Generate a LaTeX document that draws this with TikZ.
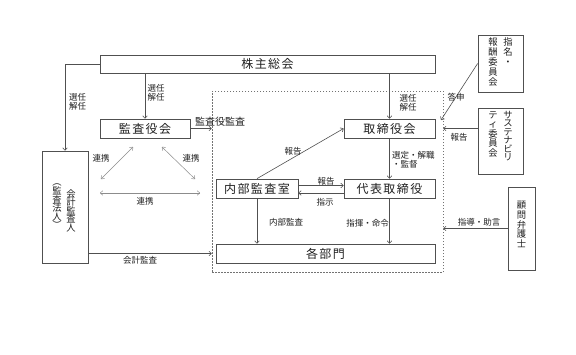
\documentclass[tikz,border=0pt]{standalone}
\usepackage{fontspec}
\setmainfont{Noto Sans CJK JP}
\newfontfamily\boxfont[LetterSpace=12]{Noto Sans CJK JP}
\usetikzlibrary{arrows.meta}
\definecolor{ln}{HTML}{505050}
\definecolor{tx}{HTML}{202020}
\begin{document}
\begin{tikzpicture}[x=1pt,y=-1pt,
 box/.style={draw=ln, line width=0.75pt, inner sep=0pt, text=tx, font=\boxfont\fontsize{12}{12}\selectfont},
 vcol/.style={inner sep=0pt, text=tx, align=center, anchor=north, font=\fontsize{9.3}{#1}\selectfont},
 vcol/.default=10,
 arr/.style={draw=ln, line width=0.6pt, -{To[length=3pt,width=5pt]}},
 link/.style={draw=black!45, line width=0.5pt, {To[length=3pt,width=5pt]}-{To[length=3pt,width=5pt]}},
 lab/.style={inner sep=0pt, text=tx, align=left, font=\fontsize{8.5}{9.5}\selectfont},
]
\useasboundingbox (0,0) rectangle (576,354);
\fill[white] (0,0) rectangle (576,354);

% dashed group
\node[draw=ln!80, dash pattern=on 1.5pt off 1.5pt, line width=0.6pt, inner sep=0pt,
      minimum width=231pt, minimum height=181pt] (grp) at (327.5,181.5) {};

% boxes
\node[box, minimum width=335pt, minimum height=18pt] (kabu) at (267.5,64) {株主総会};
\node[box, minimum width=90pt, minimum height=19pt] (kansa) at (145,128.5) {監査役会};
\node[box, minimum width=91pt, minimum height=19pt] (tori) at (389.5,128.5) {取締役会};
\node[box, minimum width=82pt, minimum height=19pt] (naibu) at (257,188.5) {内部監査室};
\node[box, minimum width=91pt, minimum height=19pt] (daihyo) at (389.5,188.5) {代表取締役};
\node[box, minimum width=219pt, minimum height=19pt] (bu) at (325.5,253.5) {各部門};
\node[box, minimum width=46pt, minimum height=112pt] (kaikei) at (65,207) {};
\node[box, minimum width=45pt, minimum height=57pt] (shimei) at (500.5,63.5) {};
\node[box, minimum width=45pt, minimum height=66pt] (susta) at (500.5,141) {};
\node[box, minimum width=27pt, minimum height=83pt] (komon) at (521.5,228.5) {};

% vertical texts
\node[vcol=8.6] (kaikeiR) at (71,189) {会\\計\\監\\査\\人};
\node[vcol=8.6] (kaikeiL) at (57,184) {︵\\監\\査\\法\\人\\︶};
\node[vcol=10] (shimeiR) at (508,37) {指\\名\\・};
\node[vcol=10] (shimeiL) at (493,37) {報\\酬\\委\\員\\会};
\node[vcol=8.4] (sustaR) at (508,111) {サ\\ス\\テ\\ナ\\ビ\\リ};
\node[vcol=9.5] (sustaL) at (493,111) {テ\\ィ\\委\\員\\会};
\node[vcol=9.75] (komonT) at (521.5,201) {顧\\問\\弁\\護\\士};

% connectors
\draw[arr] (kabu.west) -| (kaikei.north);
\draw[arr] (kansa.north |- kabu.south) -- (kansa.north);
\draw[arr] (tori.north |- kabu.south) -- (tori.north);
\draw[arr] (kansa.east) -- (kansa.east -| grp.west);
\draw[arr] (tori.south) -- (daihyo.north);
\draw[arr] (naibu.north) -- (tori.west);
\coordinate (ra) at ([yshift=3pt]naibu.east);
\draw[arr] (ra) -- (ra -| daihyo.west);
\coordinate (rb) at ([yshift=-4.5pt]daihyo.west);
\draw[arr] (rb) -- (rb -| naibu.east);
\draw[arr] (naibu.south) -- (naibu.south |- bu.north);
\draw[arr] (daihyo.south) -- (daihyo.south |- bu.north);
\draw[arr] (kaikei.east |- bu) -- (grp.west |- bu);
\coordinate (tosin) at (441,120);
\draw[arr] (shimei.west) -- (tosin);
\draw[arr] (susta.west |- tori) -- (grp.east |- tori);
\draw[arr] (komon.west) -- (komon.west -| grp.east);

% cooperation arrows
\coordinate (l1a) at (133,147); \coordinate (l1b) at (101,179);
\coordinate (l2a) at (162,147); \coordinate (l2b) at (195,179);
\coordinate (l3a) at (100,193); \coordinate (l3b) at (200,193);
\draw[link] (l1a) -- (l1b);
\draw[link] (l2a) -- (l2b);
\draw[link] (l3a) -- (l3b);

% labels
\node[lab] at (77.5,102) {選任\\解任};
\node[lab] at (156,93) {選任\\解任};
\node[lab] at (408,103) {選任\\解任};
\node[lab, font=\fontsize{10}{11}\selectfont] at (220,122) {監査役監査};
\node[lab] at (101,158) {連携};
\node[lab] at (191,158) {連携};
\node[lab] at (145,201) {連携};
\node[lab] at (140,260) {会計監査};
\node[lab] at (293,151) {報告};
\node[lab] at (326,181) {報告};
\node[lab] at (325,202) {指示};
\node[lab, anchor=west] at (392,160) {選定・解職\\・監督};
\node[lab] at (286,222) {内部監査};
\node[lab, anchor=east] at (389,223) {指揮・命令};
\node[lab] at (456,97) {答申};
\node[lab] at (459,137) {報告};
\node[lab] at (479,222) {指導・助言};
\end{tikzpicture}
\end{document}
